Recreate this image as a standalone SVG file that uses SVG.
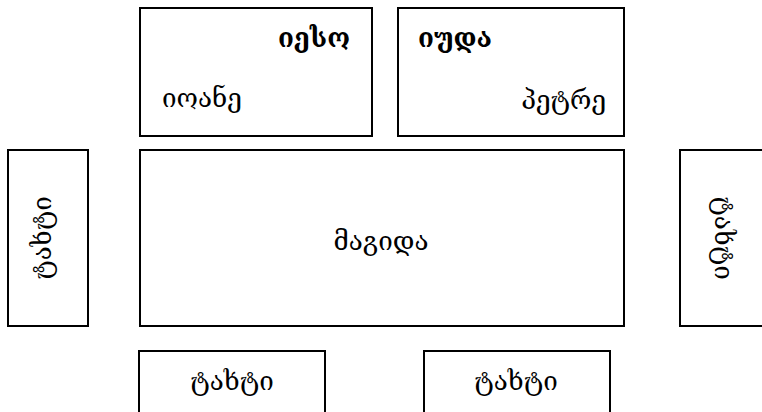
<svg xmlns="http://www.w3.org/2000/svg" width="762" height="412" viewBox="0 0 762 412">
<style>
rect{fill:#fff;stroke:#000;stroke-width:2}
text{font-family:"DejaVu Serif",serif;font-size:26px;fill:#000}
.b{font-weight:bold;font-size:26px}
.m{text-anchor:middle}
</style>
<g id="iesoBox"><rect x="140" y="8" width="232" height="128"/><text class="b" x="350" y="47" text-anchor="end">იესო</text><text x="162" y="107">იოანე</text></g>
<g id="iudaBox"><rect x="398" y="8" width="226" height="128"/><text class="b" x="418" y="47">იუდა</text><text x="606" y="109" text-anchor="end">პეტრე</text></g>
<g id="table"><rect x="140" y="150" width="484" height="176"/><text class="m" x="381" y="250">მაგიდა</text></g>
<g id="bedLeft"><rect x="8" y="150" width="80" height="176"/><text class="m" transform="translate(51,238) rotate(-90)">ტახტი</text></g>
<g id="bedRight"><rect x="680" y="150" width="90" height="176"/><text class="m" transform="translate(715,238) rotate(90)">ტახტი</text></g>
<g id="bedBottomLeft"><rect x="139" y="351" width="186" height="70"/><text class="m" x="232" y="390">ტახტი</text></g>
<g id="bedBottomRight"><rect x="424" y="351" width="186" height="70"/><text class="m" x="516" y="390">ტახტი</text></g>
<g id="connectors"/>
</svg>
